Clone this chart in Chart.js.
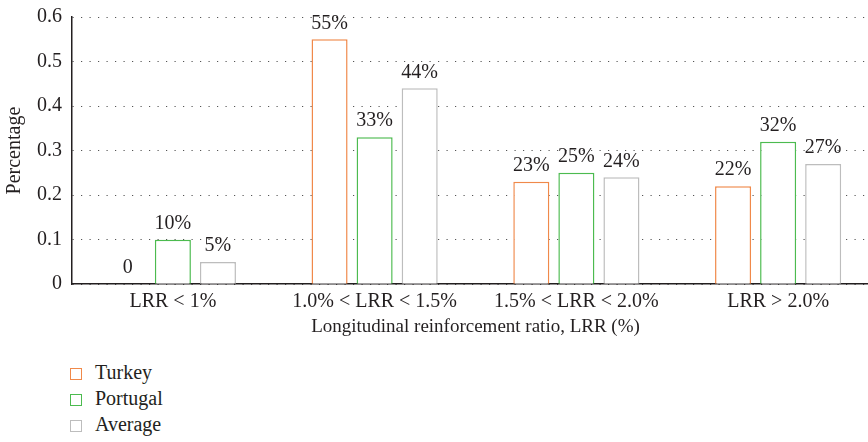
<!DOCTYPE html>
<html>
<head>
<meta charset="utf-8">
<script src="https://cdn.jsdelivr.net/npm/chart.js@4/dist/chart.umd.min.js"></script>
<style>
  html, body { margin: 0; padding: 0; background: #fff; }
  body { width: 868px; height: 442px; overflow: hidden; position: relative; }
  #wrap { position: absolute; left: 0; top: -5px; width: 880px; height: 347px; }
  #legend { position: absolute; left: 70px; top: 359px; font-family: "Liberation Serif", serif; font-size: 20px; color: #231f20; }
  .item { height: 26px; line-height: 26px; white-space: nowrap; }
  .box { display: inline-block; width: 10px; height: 10px; border: 1.5px solid; margin-right: 13px; vertical-align: -1px; }
</style>
</head>
<body>
<div id="wrap"><canvas id="barChart"></canvas></div>
<div id="legend"></div>
<script>
var categories = ["LRR < 1%", "1.0% < LRR < 1.5%", "1.5% < LRR < 2.0%", "LRR > 2.0%"];
var turkey = [0, 0.55, 0.23, 0.22];
var portugal = [0.10, 0.33, 0.25, 0.32];
var average = [0.05, 0.44, 0.24, 0.27];
var yTicks = [0, 0.1, 0.2, 0.3, 0.4, 0.5, 0.6];

var ink = "#231f20";
var serif = "'Liberation Serif', serif";

// writes the value above each bar, "0" for empty ones
var valueLabels = {
    id: "valueLabels",
    afterDatasetsDraw: function (chart) {
        var ctx = chart.ctx;
        ctx.save();
        ctx.font = "20px " + serif;
        ctx.fillStyle = ink;
        ctx.textAlign = "center";
        ctx.textBaseline = "bottom";
        chart.data.datasets.forEach(function (ds, i) {
            chart.getDatasetMeta(i).data.forEach(function (bar, j) {
                var v = ds.data[j];
                var txt = v === 0 ? "0" : Math.round(v * 100) + "%";
                ctx.fillText(txt, bar.x, bar.y - 6);
            });
        });
        ctx.restore();
    }
};

var ctx = document.getElementById("barChart");
var myChart = new Chart(ctx, {
    type: "bar",
    data: {
        labels: categories,
        datasets: [
            { label: "Turkey", data: turkey, borderColor: "#f0894a", backgroundColor: "#ffffff", borderWidth: 1.5 },
            { label: "Portugal", data: portugal, borderColor: "#4cbb4f", backgroundColor: "#ffffff", borderWidth: 1.5 },
            { label: "Average", data: average, borderColor: "#bdbdbd", backgroundColor: "#ffffff", borderWidth: 1.5 }
        ]
    },
    options: {
        responsive: true,
        maintainAspectRatio: false,
        animation: false,
        categoryPercentage: 0.67,
        barPercentage: 0.8,
        layout: { padding: { top: 2, right: 1, left: 3, bottom: 4 } },
        plugins: {
            legend: { display: false },
            tooltip: { enabled: false }
        },
        scales: {
            x: {
                grid: { display: false },
                border: { display: true, color: ink, width: 1.5 },
                ticks: { color: ink, font: { family: serif, size: 20 }, padding: -2 },
                title: {
                    display: true,
                    text: "Longitudinal reinforcement ratio, LRR (%)",
                    color: ink,
                    font: { family: serif, size: 19 },
                    padding: { top: 3, bottom: 0 }
                }
            },
            y: {
                min: 0,
                max: 0.6,
                afterBuildTicks: function (axis) {
                    axis.ticks = yTicks.map(function (v) { return { value: v }; });
                },
                grid: { color: "#555", lineWidth: 1, drawTicks: false },
                border: { display: true, color: ink, width: 1.5, dash: [1.2, 7.3] },
                ticks: { color: ink, font: { family: serif, size: 20 }, padding: 10 },
                title: {
                    display: true,
                    text: "Percentage",
                    color: ink,
                    font: { family: serif, size: 20 },
                    padding: { top: 0, bottom: 0 }
                }
            }
        }
    },
    plugins: [valueLabels]
});

var legend = document.getElementById("legend");
myChart.data.datasets.forEach(function (ds) {
    var row = document.createElement("div");
    row.className = "item";
    var box = document.createElement("span");
    box.className = "box";
    box.style.borderColor = ds.borderColor;
    row.appendChild(box);
    row.appendChild(document.createTextNode(ds.label));
    legend.appendChild(row);
});
</script>
</body>
</html>
